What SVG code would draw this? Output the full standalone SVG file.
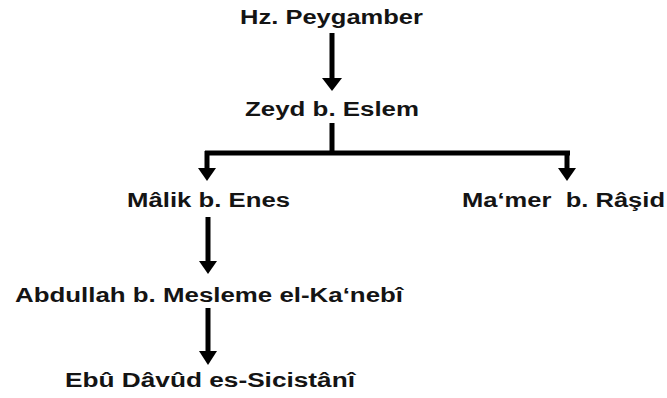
<svg xmlns="http://www.w3.org/2000/svg" width="667" height="398" viewBox="0 0 667 398">
<style>
.t{font-family:"Liberation Sans",Arial,sans-serif;font-weight:bold;font-size:19.5px;fill:#141414;white-space:pre}
.c{fill:none;stroke:#000;stroke-width:5}
.h{fill:#000}
</style>
<rect width="667" height="398" fill="#fff"/>
<g id="connectors">
<path class="c" d="M332 33V80"/>
<polygon class="h" points="322,78 342,78 332,91"/>
<path class="c" d="M332 123V153M205 153H570M207 151V170M567 151V170"/>
<polygon class="h" points="198,168 216,168 207,181"/>
<polygon class="h" points="558,168 576,168 567,181"/>
<path class="c" d="M208 217V263"/>
<polygon class="h" points="199,261 217,261 208,274"/>
<path class="c" d="M208 308V353"/>
<polygon class="h" points="199,351 217,351 208,365"/>
</g>
<g id="n1"><text class="t" x="240" y="24" textLength="183" lengthAdjust="spacingAndGlyphs">Hz. Peygamber</text></g>
<g id="n2"><text class="t" x="245" y="116" textLength="174" lengthAdjust="spacingAndGlyphs">Zeyd b. Eslem</text></g>
<g id="n3"><text class="t" x="127" y="207" textLength="163" lengthAdjust="spacingAndGlyphs">Mâlik b. Enes</text></g>
<g id="n4"><text class="t" x="462" y="207" textLength="203" lengthAdjust="spacingAndGlyphs">Ma‘mer  b. Râşid</text></g>
<g id="n5"><text class="t" x="15" y="302" textLength="388" lengthAdjust="spacingAndGlyphs">Abdullah b. Mesleme el-Ka‘nebî</text></g>
<g id="n6"><text class="t" x="65" y="387" textLength="290" lengthAdjust="spacingAndGlyphs">Ebû Dâvûd es-Sicistânî</text></g>
</svg>
